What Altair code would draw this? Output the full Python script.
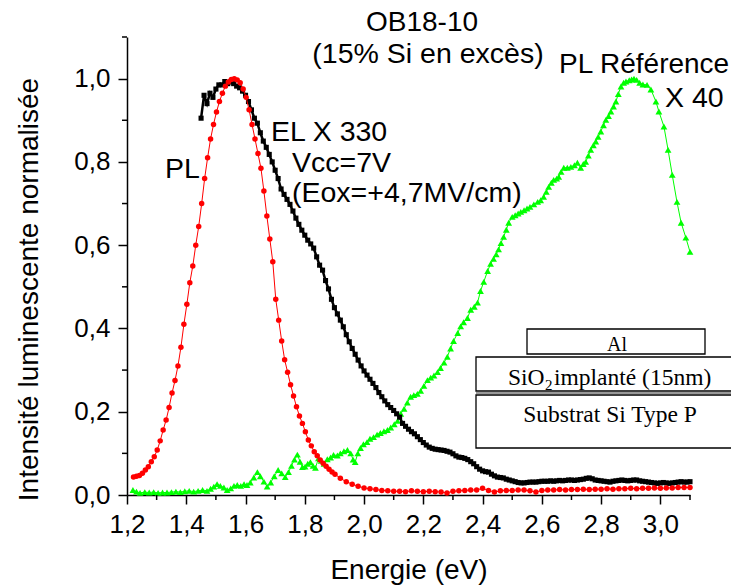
import altair as alt
import pandas as pd

# ---------------- data ----------------
PL_E = [1.222,1.232,1.242,1.252,1.262,1.272,1.282,1.292,1.302,1.312,
        1.322,1.332,1.342,1.352,1.362,1.372,1.382,1.392,1.402,1.412,
        1.422,1.432,1.442,1.452,1.462,1.472,1.482,1.492,1.502,1.512,
        1.522,1.532,1.542,1.552,1.562,1.572,1.582,1.592,1.602,1.612,
        1.622,1.632,1.642,1.652,1.662,1.672,1.682,1.692,1.702,1.712,
        1.722,1.732,1.742,1.752,1.762,1.772,1.782,1.792,1.802,1.812,
        1.822,1.832,1.842,1.852,1.862,1.872,1.882,1.892,1.902,
        1.92,1.94,1.96,1.98,2.00,2.02,2.04,2.06,2.08,2.10,
        2.12,2.14,2.16,2.18,2.20,2.22,2.24,2.26,2.28,2.30,
        2.32,2.34,2.36,2.38,2.40,2.42,2.44,2.46,2.48,2.50,
        2.52,2.54,2.56,2.58,2.60,2.62,2.64,2.66,2.68,2.70,
        2.72,2.74,2.76,2.78,2.80,2.82,2.84,2.86,2.88,2.90,
        2.92,2.94,2.96,2.98,3.00,3.02,3.04,3.06,3.08,3.10]
PL_I = [.043,.045,.047,.052,.060,.068,.080,.092,.108,.130,
        .156,.180,.210,.245,.275,.310,.355,.410,.458,.510,
        .550,.600,.645,.700,.760,.810,.855,.890,.920,.945,
        .965,.982,.992,.998,1.000,.997,.990,.975,.955,.925,
        .890,.855,.820,.785,.730,.670,.615,.560,.470,.420,
        .370,.325,.295,.265,.238,.212,.190,.172,.152,.132,
        .118,.104,.094,.084,.076,.069,.062,.055,.050,
        .040,.032,.026,.021,.017,.015,.013,.011,.010,.009,
        .009,.008,.010,.009,.008,.009,.008,.007,.005,.009,
        .010,.011,.012,.012,.016,.011,.007,.010,.011,.011,
        .012,.012,.010,.007,.011,.012,.012,.013,.012,.013,
        .013,.014,.013,.014,.014,.015,.014,.015,.015,.016,
        .015,.016,.016,.017,.016,.017,.017,.018,.018,.018]

EL_E = [1.45,1.46,1.47,1.48,1.49,1.50,1.51,1.52,1.53,1.54,
        1.55,1.56,1.57,1.58,1.59,1.60,1.61,1.62,1.63,1.64,
        1.65,1.66,1.67,1.68,1.69,1.70,1.71,1.72,1.73,1.74,
        1.75,1.76,1.77,1.78,1.79,1.80,1.81,1.82,1.83,1.84,
        1.85,1.86,1.87,1.88,1.89,1.90,1.91,1.92,1.93,1.94,
        1.95,1.96,1.97,1.98,1.99,2.00,2.01,2.02,2.03,2.04,
        2.05,2.06,2.07,2.08,2.09,2.10,2.11,2.12,2.13,2.14,
        2.15,2.16,2.17,2.18,2.19,2.20,2.21,2.22,2.23,2.24,
        2.25,2.26,2.27,2.28,2.29,2.30,2.31,2.32,2.33,2.34,
        2.35,2.36,2.37,2.38,2.39,2.40,2.41,2.42,2.43,2.44,
        2.45,2.46,2.47,2.48,2.49,2.50,2.51,2.52,2.53,2.54,
        2.55,2.56,2.57,2.58,2.59,2.60,2.61,2.62,2.63,2.64,
        2.65,2.66,2.67,2.68,2.69,2.70,2.71,2.72,2.73,2.74,
        2.75,2.76,2.77,2.78,2.79,2.80,2.81,2.82,2.83,2.84,
        2.85,2.86,2.87,2.88,2.89,2.90,2.91,2.92,2.93,2.94,
        2.95,2.96,2.97,2.98,2.99,3.00,3.01,3.02,3.03,3.04,
        3.05,3.06,3.07,3.08,3.09,3.10]
EL_I = [.905,.960,.940,.965,.955,.975,.985,.985,.993,.988,
        .992,.988,.982,.978,.970,.960,.945,.925,.905,.893,
        .870,.850,.835,.818,.800,.780,.760,.735,.722,.710,
        .698,.682,.665,.650,.636,.624,.612,.603,.593,.572,
        .552,.540,.515,.495,.470,.450,.435,.420,.404,.385,
        .368,.352,.338,.324,.310,.298,.288,.278,.268,.258,
        .246,.236,.226,.217,.210,.203,.195,.187,.172,.165,
        .158,.152,.147,.140,.133,.126,.120,.115,.112,.110,
        .109,.108,.107,.105,.103,.099,.094,.091,.090,.088,
        .085,.080,.075,.068,.062,.058,.056,.055,.050,.046,
        .043,.042,.041,.038,.036,.034,.032,.030,.029,.029,
        .030,.031,.031,.031,.032,.033,.033,.033,.034,.033,
        .034,.035,.034,.035,.036,.036,.035,.036,.037,.038,
        .040,.041,.039,.036,.035,.034,.033,.032,.031,.033,
        .034,.035,.036,.035,.034,.035,.036,.036,.034,.033,
        .032,.031,.030,.029,.028,.029,.030,.029,.028,.029,
        .030,.031,.032,.031,.031,.032]

REF_E = [1.220,1.232,1.244,1.260,1.275,1.290,1.305,1.320,1.335,1.350,
         1.365,1.380,1.395,1.410,1.425,1.440,1.455,1.470,1.482,1.493,
         1.504,1.515,1.527,1.538,1.550,1.561,1.572,1.584,1.595,1.605,
         1.616,1.628,1.640,1.650,1.662,1.673,1.685,1.697,1.710,1.722,
         1.734,1.745,1.755,1.765,1.775,1.784,1.792,1.801,1.810,1.819,
         1.828,1.836,1.846,1.855,1.865,1.876,1.887,1.897,1.910,1.920,
         1.932,1.944,1.955,1.963,1.970,1.979,1.988,1.998,2.010,2.020,
         2.032,2.044,2.055,2.067,2.079,2.090,2.102,2.113,2.124,2.135,
         2.146,2.157,2.168,2.180,2.191,2.202,2.214,2.225,2.236,2.248,
         2.258,2.270,2.281,2.292,2.302,2.316,2.326,2.336,2.349,2.360,
         2.372,2.383,2.393,2.404,2.417,2.427,2.437,2.446,2.454,2.462,
         2.471,2.480,2.488,2.500,2.510,2.520,2.529,2.540,2.550,2.560,
         2.573,2.586,2.596,2.606,2.615,2.623,2.632,2.640,2.650,2.657,
         2.665,2.674,2.686,2.698,2.710,2.720,2.731,2.740,2.748,2.757,
         2.765,2.774,2.782,2.790,2.799,2.808,2.816,2.825,2.833,2.842,
         2.850,2.858,2.867,2.876,2.884,2.895,2.903,2.911,2.920,2.930,
         2.941,2.955,2.968,2.985,2.995,3.012,3.026,3.040,3.056,3.070,
         3.086,3.100]
REF_I = [.012,.008,.005,.007,.006,.007,.005,.006,.006,.007,
         .008,.007,.009,.010,.008,.010,.012,.010,.015,.020,
         .026,.022,.018,.012,.016,.022,.024,.022,.026,.024,
         .030,.042,.055,.045,.032,.020,.030,.045,.060,.052,
         .043,.055,.070,.085,.097,.080,.067,.068,.075,.079,
         .070,.065,.088,.082,.075,.086,.090,.096,.095,.100,
         .105,.108,.100,.085,.079,.100,.113,.122,.127,.135,
         .139,.145,.149,.153,.156,.162,.170,.178,.195,.207,
         .222,.236,.240,.243,.250,.262,.276,.282,.287,.295,
         .305,.318,.332,.352,.370,.389,.405,.415,.425,.445,
         .452,.462,.490,.512,.538,.555,.567,.578,.590,.605,
         .620,.637,.654,.668,.672,.676,.680,.684,.688,.692,
         .698,.704,.708,.716,.728,.740,.750,.757,.760,.764,
         .776,.786,.786,.788,.792,.798,.786,.795,.800,.815,
         .829,.840,.849,.860,.873,.888,.901,.910,.921,.933,
         .945,.963,.981,.990,.993,.996,.998,1.000,.997,.990,
         .986,.985,.974,.945,.921,.885,.829,.769,.704,.654,
         .618,.584]

X_MAJOR = [1.2, 1.4, 1.6, 1.8, 2.0, 2.2, 2.4, 2.6, 2.8, 3.0]
X_MINOR = [1.3, 1.5, 1.7, 1.9, 2.1, 2.3, 2.5, 2.7, 2.9, 3.1]
Y_MAJOR = [0.0, 0.2, 0.4, 0.6, 0.8, 1.0]
Y_MINOR = [0.1, 0.3, 0.5, 0.7, 0.9, 1.1]

# ---------------- chart ----------------
W, H = 563, 458
xscale = alt.Scale(domain=[1.2, 3.1], nice=False, zero=False)
yscale = alt.Scale(domain=[0, 1.1], nice=False, zero=False)
LABEL_EXPR = "replace(datum.label, '.', ',')"

xaxis = alt.Axis(values=X_MAJOR, format=".1f", labelExpr=LABEL_EXPR,
                 title="Energie (eV)", tickSize=9, labelPadding=7,
                 titleY=83, titleBaseline="alphabetic", labelFlush=False,
                 labelOverlap=False)
yaxis = alt.Axis(values=Y_MAJOR, format=".1f", labelExpr=LABEL_EXPR,
                 title="Intensité luminescente normalisée", tickSize=9,
                 labelPadding=8, titleX=-90, titleY=252, titleAngle=270,
                 titleBaseline="alphabetic", titleAlign="center",
                 labelFlush=False, labelOverlap=False)

X_ENC = alt.X("E:Q", scale=xscale, axis=xaxis)
Y_ENC = alt.Y("I:Q", scale=yscale, axis=yaxis)

df_pl = pd.DataFrame({"E": PL_E, "I": PL_I})
df_el = pd.DataFrame({"E": EL_E, "I": EL_I})
df_ref = pd.DataFrame({"E": REF_E, "I": REF_I})


def series(df, color, shape, size, lw):
    base = alt.Chart(df)
    line = base.mark_line(color=color, strokeWidth=lw).encode(x=X_ENC, y=Y_ENC)
    pts = base.mark_point(shape=shape, filled=True, size=size, color=color,
                          opacity=1).encode(x=X_ENC, y=Y_ENC)
    return line + pts


ref_layer = series(df_ref, "#00ff00", "triangle-up", 46, 1)
el_layer = series(df_el, "#000000", "square", 26, 2.5)
pl_layer = series(df_pl, "#ff0000", "circle", 30, 1)

xminor = alt.Chart(pd.DataFrame({"E": X_MINOR})).mark_rule(
    color="black", strokeWidth=1.5).encode(
    x=X_ENC, y=alt.value(H), y2=alt.value(H + 5))
yminor = alt.Chart(pd.DataFrame({"I": Y_MINOR})).mark_rule(
    color="black", strokeWidth=1.5).encode(
    y=Y_ENC, x=alt.value(0), x2=alt.value(-5))


def label(text, x, y, size=28.5, align="left", font="Liberation Sans"):
    return alt.Chart(pd.DataFrame({"t": [text]})).mark_text(
        align=align, baseline="alphabetic", fontSize=size, font=font,
        color="black").encode(x=alt.value(x), y=alt.value(y), text="t:N")


def box(x1, x2, y1, y2):
    return alt.Chart(pd.DataFrame({"t": [0]})).mark_rect(
        fill="white", stroke="black", strokeWidth=1.3).encode(
        x=alt.value(x1), x2=alt.value(x2), y=alt.value(y1), y2=alt.value(y2))


texts = [
    label("OB18-10", 295, -6, size=28, align="center"),
    label("(15% Si en excès)", 301, 26, size=28.5, align="center"),
    label("PL Référence", 432, 36, size=28),
    label("X 40", 538, 70),
    label("EL X 330", 144, 104),
    label("Vcc=7V", 165, 135),
    label("(Eox=+4,7MV/cm)", 165, 165),
    label("PL", 38, 141),
]

boxes = [
    box(400, 578, 292, 317),
    box(349, 630, 320, 354),
    box(349, 630, 358, 411),
    alt.Chart(pd.DataFrame({"t": [0]})).mark_rule(color="#999999", strokeWidth=2).encode(
        x=alt.value(349), x2=alt.value(630), y=alt.value(356)),
    label("Al", 490, 314, size=20, align="center", font="Liberation Serif"),
    label("SiO", 381, 348, size=23.5, font="Liberation Serif"),
    label("2", 418, 353, size=15, font="Liberation Serif"),
    label("implanté (15nm)", 427, 348, size=23.5, font="Liberation Serif"),
    label("Substrat Si Type P", 483, 385, size=23.5, align="center",
          font="Liberation Serif"),
]

chart = alt.layer(ref_layer, el_layer, pl_layer, xminor, yminor, *texts, *boxes).properties(
    width=W, height=H,
    autosize=alt.AutoSizeParams(type="none"),
    padding={"left": 119, "top": 29, "right": 41, "bottom": 92},
).configure_view(stroke=None).configure_axis(
    domainColor="black", domainWidth=1.5, tickColor="black", tickWidth=1.5,
    labelFont="Liberation Sans", labelFontSize=26, labelColor="black",
    titleFont="Liberation Sans", titleFontSize=28, titleFontWeight="normal",
    titleColor="black", grid=False,
)

chart.save("out.html", embed_options={"renderer": "svg", "actions": False})
